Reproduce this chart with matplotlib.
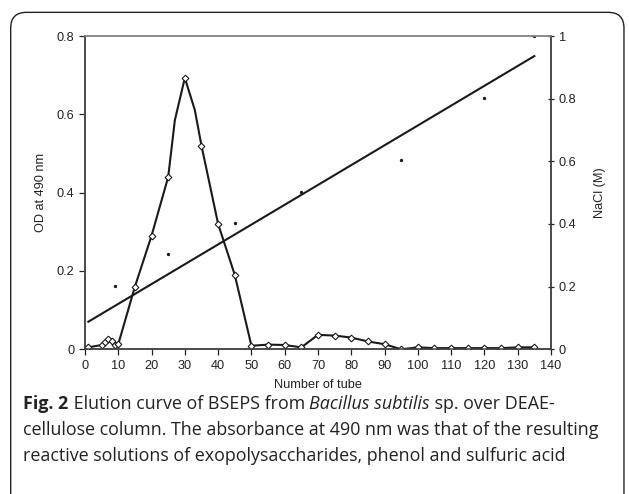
import matplotlib.pyplot as plt
from matplotlib.patches import FancyBboxPatch

# OD at 490 nm per tube (27 and 33 carry no marker in the original)
od_tube = [1, 5, 6, 7, 8, 9, 10, 15, 20, 25, 27, 30, 33, 35, 40, 45, 50, 55, 60, 65,
           70, 75, 80, 85, 90, 95, 100, 105, 110, 115, 120, 125, 130, 135]
od_value = [0.005, 0.011, 0.019, 0.026, 0.022, 0.011, 0.013, 0.16, 0.29, 0.44, 0.585, 0.693, 0.611, 0.52,
            0.32, 0.19, 0.009, 0.012, 0.011, 0.005, 0.037, 0.035, 0.03, 0.02, 0.013, 0.0,
            0.005, 0.003, 0.003, 0.003, 0.003, 0.003, 0.005, 0.005]
od_unmarked = [27, 33]

# NaCl gradient samples and its straight trend line
nacl_tube = [9, 25, 45, 65, 95, 120, 135]
nacl_value = [0.203, 0.303, 0.402, 0.501, 0.603, 0.803, 1.0]
trend_tube = [1, 135]
trend_value = [0.088, 0.936]

plt.rcParams['font.family'] = ['Liberation Sans', 'DejaVu Sans']

fig = plt.figure(figsize=(6.29, 4.94), dpi=100)
ax = fig.add_axes([0.1351, 0.2929, 0.7409, 0.6342])
ax2 = ax.twinx()

marked = [i for i, t in enumerate(od_tube) if t not in od_unmarked]
ax.plot(od_tube, od_value, color='#1a1a1a', lw=1.5, marker='D', ms=3.4,
        mfc='white', mec='#1a1a1a', mew=0.8, markevery=marked, zorder=3)

ax2.plot(trend_tube, trend_value, color='#1a1a1a', lw=1.5)
ax2.plot(nacl_tube, nacl_value, ls='none', marker='o', ms=1.4, color='#1a1a1a')

ax.set_xlim(0, 140)
ax.set_ylim(0, 0.8)
ax2.set_ylim(0, 1)
ax.set_xticks(range(0, 141, 10))
ax.set_yticks([0, 0.2, 0.4, 0.6, 0.8])
ax.set_yticklabels(['0', '0.2', '0.4', '0.6', '0.8'])
ax2.set_yticks([0, 0.2, 0.4, 0.6, 0.8, 1])
ax2.set_yticklabels(['0', '0.2', '0.4', '0.6', '0.8', '1'])

for a in (ax, ax2):
    a.spines['top'].set_color('#888888')
    a.spines['left'].set_color('#444444')
    a.spines['right'].set_color('#444444')
    a.spines['bottom'].set_color('#444444')
    for s in a.spines.values():
        s.set_linewidth(1.1)
ax.tick_params(axis='both', labelsize=9.2, colors='#222222', length=4, width=0.9, direction='out')
ax2.tick_params(axis='y', labelsize=9.2, colors='#222222', length=4, width=0.9, direction='inout')

ax.set_xlabel('Number of tube', fontsize=9.2, color='#222222', labelpad=5)
ax.set_ylabel('OD at 490 nm', fontsize=9.2, color='#222222', labelpad=7)
ax2.set_ylabel('NaCl (M)', fontsize=9.2, color='#222222', rotation=90, labelpad=13)

# rounded frame round the figure and its caption
frame = FancyBboxPatch((0.017, -0.05), 0.975, 1.025, boxstyle='round,pad=0,rounding_size=0.025',
                       transform=fig.transFigure, fill=False, ec='#222222', lw=1.0,
                       mutation_aspect=629 / 494)
fig.patches.append(frame)

cap = dict(fontsize=12.9, color='#222222', va='center', family=['Open Sans', 'DejaVu Sans'])
y1, y2, y3 = 1 - 404 / 494, 1 - 430 / 494, 1 - 456 / 494
x0 = 0.037
t1 = fig.text(x0, y1, 'Fig. 2', fontweight='bold', **cap)
fig.canvas.draw()
r = fig.canvas.get_renderer()
x = t1.get_window_extent(r).x1 / fig.bbox.width
t2 = fig.text(x, y1, ' Elution curve of BSEPS from ', **cap)
x = t2.get_window_extent(r).x1 / fig.bbox.width
t3 = fig.text(x, y1, 'Bacillus subtilis', style='italic', **cap)
x = t3.get_window_extent(r).x1 / fig.bbox.width
fig.text(x, y1, ' sp. over DEAE-', **cap)
fig.text(x0, y2, 'cellulose column. The absorbance at 490 nm was that of the resulting', **cap)
fig.text(x0, y3, 'reactive solutions of exopolysaccharides, phenol and sulfuric acid', **cap)

fig.savefig('out.png', dpi=100)
